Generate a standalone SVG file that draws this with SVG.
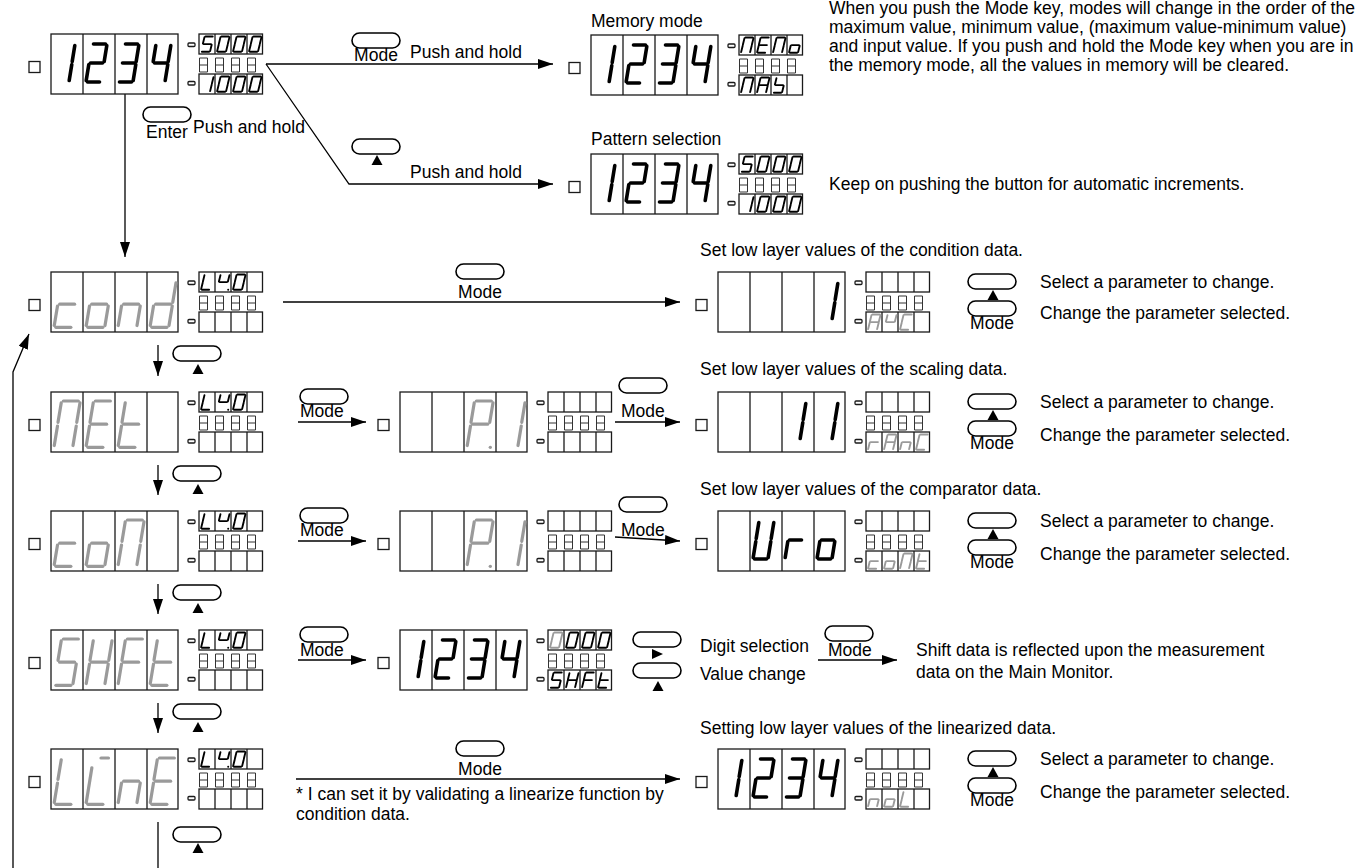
<svg xmlns="http://www.w3.org/2000/svg" width="1370" height="868" viewBox="0 0 1370 868">
<style>
text{font-family:"Liberation Sans",Arial,sans-serif;font-size:17.5px;fill:#000}
.fr{fill:none;stroke:#1a1a1a;stroke-width:1.3}
.led{fill:none;stroke:#333;stroke-width:1}
.btn{fill:#fff;stroke:#000;stroke-width:1.6}
.tri{fill:#000}
.cn{fill:none;stroke:#000;stroke-width:1.3}
.B{stroke:#000;stroke-width:3.6;stroke-linecap:round}
.G{stroke:#9a9a9a;stroke-width:3.2;stroke-linecap:round}
.s{stroke:#000;stroke-width:1.9;stroke-linecap:round}
.sg{stroke:#9a9a9a;stroke-width:1.9;stroke-linecap:round}
</style>
<defs>
<marker id="ah" markerUnits="userSpaceOnUse" markerWidth="16" markerHeight="11" refX="15" refY="5" orient="auto"><path d="M0,0 L15,5 L0,10 z" fill="#000"/></marker>
<line id="sa" x1="7.5" y1="0" x2="19.5" y2="0" vector-effect="non-scaling-stroke"/>
<line id="sb" x1="20.8" y1="1.5" x2="18.2" y2="17.5" vector-effect="non-scaling-stroke"/>
<line id="sc" x1="17.8" y1="20.5" x2="15.2" y2="36.5" vector-effect="non-scaling-stroke"/>
<line id="sd" x1="1.5" y1="38" x2="13.5" y2="38" vector-effect="non-scaling-stroke"/>
<line id="se" x1="2.8" y1="20.5" x2="0.2" y2="36.5" vector-effect="non-scaling-stroke"/>
<line id="sf" x1="5.8" y1="1.5" x2="3.2" y2="17.5" vector-effect="non-scaling-stroke"/>
<line id="sg" x1="4.5" y1="19" x2="16.5" y2="19" vector-effect="non-scaling-stroke"/>
<line id="sp" x1="18.6" y1="38" x2="18.7" y2="38" vector-effect="non-scaling-stroke"/>
<line id="sa2" x1="12" y1="0" x2="18" y2="0" vector-effect="non-scaling-stroke"/>
<line id="si" x1="4.7" y1="8" x2="0.2" y2="36.5" vector-effect="non-scaling-stroke"/>
<g id="k0"><use href="#sa"/><use href="#sb"/><use href="#sc"/><use href="#sd"/><use href="#se"/><use href="#sf"/></g>
<g id="k1"><use href="#sb"/><use href="#sc"/></g>
<g id="k2"><use href="#sa"/><use href="#sb"/><use href="#sg"/><use href="#se"/><use href="#sd"/></g>
<g id="k3"><use href="#sa"/><use href="#sb"/><use href="#sg"/><use href="#sc"/><use href="#sd"/></g>
<g id="k4"><use href="#sf"/><use href="#sg"/><use href="#sb"/><use href="#sc"/></g>
<g id="k5"><use href="#sa"/><use href="#sf"/><use href="#sg"/><use href="#sc"/><use href="#sd"/></g>
<g id="kc"><use href="#sg"/><use href="#se"/><use href="#sd"/></g>
<g id="ko"><use href="#sg"/><use href="#sc"/><use href="#sd"/><use href="#se"/></g>
<g id="kn"><use href="#se"/><use href="#sg"/><use href="#sc"/></g>
<g id="kd"><use href="#sb"/><use href="#sc"/><use href="#sd"/><use href="#se"/><use href="#sg"/></g>
<g id="kN"><use href="#sa"/><use href="#sb"/><use href="#sc"/><use href="#se"/><use href="#sf"/></g>
<g id="kE"><use href="#sa"/><use href="#sd"/><use href="#se"/><use href="#sf"/><use href="#sg"/></g>
<g id="kt"><use href="#sd"/><use href="#se"/><use href="#sf"/><use href="#sg"/></g>
<g id="kH"><use href="#sb"/><use href="#sc"/><use href="#se"/><use href="#sf"/><use href="#sg"/></g>
<g id="kF"><use href="#sa"/><use href="#se"/><use href="#sf"/><use href="#sg"/></g>
<g id="kL"><use href="#sd"/><use href="#se"/><use href="#sf"/></g>
<g id="kI"><use href="#sa2"/><use href="#si"/><use href="#sd"/></g>
<g id="kP"><use href="#sa"/><use href="#sb"/><use href="#se"/><use href="#sf"/><use href="#sg"/><use href="#sp"/></g>
<g id="kU"><use href="#sb"/><use href="#sc"/><use href="#sd"/><use href="#se"/><use href="#sf"/></g>
<g id="kr"><use href="#se"/><use href="#sg"/></g>
<g id="kA"><use href="#sa"/><use href="#sb"/><use href="#sc"/><use href="#se"/><use href="#sf"/><use href="#sg"/></g>
<g id="kv"><use href="#sf"/><use href="#sb"/><use href="#sg"/></g>
<g id="kC"><use href="#sa"/><use href="#sd"/><use href="#se"/><use href="#sf"/></g>
<g id="kX"><use href="#sf"/><use href="#sg"/><use href="#sc"/><use href="#sd"/></g>
<g id="frame">
<rect class="fr" x="0" y="0" width="127" height="60"/>
<path class="fr" d="M32,0V60M64,0V60M96,0V60"/>
<rect class="fr" x="-22" y="27.5" width="11" height="11"/>
<rect class="fr" x="137" y="9" width="7" height="3.5" rx="1"/>
<rect class="fr" x="137" y="47.5" width="7" height="3.5" rx="1"/>
<rect class="fr" x="148" y="0" width="63.5" height="20"/>
<path class="fr" d="M164,0V20M180,0V20M196,0V20"/>
<rect class="fr" x="148" y="40" width="63.5" height="20"/>
<path class="fr" d="M164,40V60M180,40V60M196,40V60"/>
<path class="led" d="M148.5,24h8v14h-8zM148.5,31h8M164.5,24h8v14h-8zM164.5,31h8M180.5,24h8v14h-8zM180.5,31h8M196.5,24h8v14h-8zM196.5,31h8"/>
</g>
<rect id="btn" class="btn" width="48" height="15" rx="7.5"/>
<polygon id="up" class="tri" points="-5.5,10 5.5,10 0,0"/>
<polygon id="rt" class="tri" points="0,0 0,10 11,5"/>
</defs>

<g id="connectors">
<path class="cn" d="M266,64H553" marker-end="url(#ah)"/>
<path class="cn" d="M266,64L349,184H553" marker-end="url(#ah)"/>
<path class="cn" d="M125,94V257" marker-end="url(#ah)"/>
<path class="cn" d="M283,302H680" marker-end="url(#ah)"/>
<path class="cn" d="M298,422H366" marker-end="url(#ah)"/>
<path class="cn" d="M615,422H680" marker-end="url(#ah)"/>
<path class="cn" d="M298,541H366" marker-end="url(#ah)"/>
<path class="cn" d="M615,537L680,541" marker-end="url(#ah)"/>
<path class="cn" d="M298,660H366" marker-end="url(#ah)"/>
<path class="cn" d="M818,660H897" marker-end="url(#ah)"/>
<path class="cn" d="M296,779H680" marker-end="url(#ah)"/>
<path class="cn" d="M158,345V376" marker-end="url(#ah)"/>
<path class="cn" d="M158,465V495" marker-end="url(#ah)"/>
<path class="cn" d="M158,584V614" marker-end="url(#ah)"/>
<path class="cn" d="M158,703V733" marker-end="url(#ah)"/>
<path class="cn" d="M158,822V868"/>
<path class="cn" d="M13,868V372L29,334" marker-end="url(#ah)"/>
</g>

<g id="keys">
<use href="#btn" x="352" y="33"/><text x="376" y="61" text-anchor="middle">Mode</text>
<text x="410" y="58">Push and hold</text>
<use href="#btn" x="352" y="139"/><use href="#up" x="377" y="155"/>
<text x="410" y="178">Push and hold</text>
<use href="#btn" x="143" y="107"/><text x="167" y="138" text-anchor="middle">Enter</text>
<text x="193" y="133">Push and hold</text>
<use href="#btn" x="173" y="346"/><use href="#up" x="198" y="364"/>
<use href="#btn" x="173" y="466"/><use href="#up" x="198" y="484"/>
<use href="#btn" x="173" y="585"/><use href="#up" x="198" y="603"/>
<use href="#btn" x="173" y="704"/><use href="#up" x="198" y="722"/>
<use href="#btn" x="173" y="827"/><use href="#up" x="198" y="843"/>
<use href="#btn" x="456" y="264"/><text x="480" y="298" text-anchor="middle">Mode</text>
<use href="#btn" x="300" y="389"/><text x="300" y="417">Mode</text>
<use href="#btn" x="619" y="378"/><text x="621" y="417">Mode</text>
<use href="#btn" x="300" y="508"/><text x="300" y="536">Mode</text>
<use href="#btn" x="619" y="497"/><text x="621" y="536">Mode</text>
<use href="#btn" x="300" y="627"/><text x="300" y="656">Mode</text>
<use href="#btn" x="633" y="632"/><use href="#rt" x="652" y="649"/>
<use href="#btn" x="633" y="663"/><use href="#up" x="658" y="681"/>
<text x="700" y="652">Digit selection</text>
<text x="700" y="680">Value change</text>
<use href="#btn" x="825" y="626"/><text x="828" y="656">Mode</text>
<use href="#btn" x="456" y="741"/><text x="480" y="775" text-anchor="middle">Mode</text>
<use href="#btn" x="968" y="274"/><use href="#up" x="993" y="290"/>
<use href="#btn" x="968" y="301"/><text x="992" y="329" text-anchor="middle">Mode</text>
<use href="#btn" x="968" y="394"/><use href="#up" x="993" y="410"/>
<use href="#btn" x="968" y="421"/><text x="992" y="449" text-anchor="middle">Mode</text>
<use href="#btn" x="968" y="513"/><use href="#up" x="993" y="529"/>
<use href="#btn" x="968" y="540"/><text x="992" y="568" text-anchor="middle">Mode</text>
<use href="#btn" x="968" y="751"/><use href="#up" x="993" y="767"/>
<use href="#btn" x="968" y="778"/><text x="992" y="806" text-anchor="middle">Mode</text>
</g>

<g id="notes">
<text x="591" y="27">Memory mode</text>
<text x="591" y="145">Pattern selection</text>
<text x="829" y="14">When you push the Mode key, modes will change in the order of the</text>
<text x="829" y="33">maximum value, minimum value, (maximum value-minimum value)</text>
<text x="829" y="52">and input value. If you push and hold the Mode key when you are in</text>
<text x="829" y="71">the memory mode, all the values in memory will be cleared.</text>
<text x="829" y="190">Keep on pushing the button for automatic increments.</text>
<text x="700" y="256">Set low layer values of the condition data.</text>
<text x="1040" y="288">Select a parameter to change.</text>
<text x="1040" y="319">Change the parameter selected.</text>
<text x="700" y="375">Set low layer values of the scaling data.</text>
<text x="1040" y="408">Select a parameter to change.</text>
<text x="1040" y="441">Change the parameter selected.</text>
<text x="700" y="495">Set low layer values of the comparator data.</text>
<text x="1040" y="527">Select a parameter to change.</text>
<text x="1040" y="560">Change the parameter selected.</text>
<text x="916" y="656">Shift data is reflected upon the measurement</text>
<text x="916" y="678">data on the Main Monitor.</text>
<text x="700" y="734">Setting low layer values of the linearized data.</text>
<text x="1040" y="765">Select a parameter to change.</text>
<text x="1040" y="798">Change the parameter selected.</text>
<text x="296" y="800">* I can set it by validating a linearize function by</text>
<text x="296" y="820">condition data.</text>
</g>

<g id="disp-main">
<use href="#frame" x="51" y="34"/>
<use href="#k1" class="B" transform="translate(54,44)"/><use href="#k2" class="B" transform="translate(86,44)"/><use href="#k3" class="B" transform="translate(118,44)"/><use href="#k4" class="B" transform="translate(150,44)"/>
<use href="#k5" class="s" transform="translate(201,36.5) scale(0.6,0.4)"/><use href="#k0" class="s" transform="translate(217,36.5) scale(0.6,0.4)"/><use href="#k0" class="s" transform="translate(233,36.5) scale(0.6,0.4)"/><use href="#k0" class="s" transform="translate(249,36.5) scale(0.6,0.4)"/>
<use href="#k1" class="s" transform="translate(201,76.5) scale(0.6,0.4)"/><use href="#k0" class="s" transform="translate(217,76.5) scale(0.6,0.4)"/><use href="#k0" class="s" transform="translate(233,76.5) scale(0.6,0.4)"/><use href="#k0" class="s" transform="translate(249,76.5) scale(0.6,0.4)"/>
</g>

<g id="disp-memory">
<use href="#frame" x="591" y="35"/>
<use href="#k1" class="B" transform="translate(594,45)"/><use href="#k2" class="B" transform="translate(626,45)"/><use href="#k3" class="B" transform="translate(658,45)"/><use href="#k4" class="B" transform="translate(690,45)"/>
<use href="#kN" class="s" transform="translate(741,37.5) scale(0.6,0.4)"/><use href="#kE" class="s" transform="translate(757,37.5) scale(0.6,0.4)"/><use href="#kN" class="s" transform="translate(773,37.5) scale(0.6,0.4)"/><use href="#ko" class="s" transform="translate(789,37.5) scale(0.6,0.4)"/>
<use href="#kN" class="s" transform="translate(741,77.5) scale(0.6,0.4)"/><use href="#kA" class="s" transform="translate(757,77.5) scale(0.6,0.4)"/><use href="#kX" class="s" transform="translate(773,77.5) scale(0.6,0.4)"/>
</g>

<g id="disp-pattern">
<use href="#frame" x="591" y="154"/>
<use href="#k1" class="B" transform="translate(594,164)"/><use href="#k2" class="B" transform="translate(626,164)"/><use href="#k3" class="B" transform="translate(658,164)"/><use href="#k4" class="B" transform="translate(690,164)"/>
<use href="#k5" class="s" transform="translate(741,156.5) scale(0.6,0.4)"/><use href="#k0" class="s" transform="translate(757,156.5) scale(0.6,0.4)"/><use href="#k0" class="s" transform="translate(773,156.5) scale(0.6,0.4)"/><use href="#k0" class="s" transform="translate(789,156.5) scale(0.6,0.4)"/>
<use href="#k1" class="s" transform="translate(741,196.5) scale(0.6,0.4)"/><use href="#k0" class="s" transform="translate(757,196.5) scale(0.6,0.4)"/><use href="#k0" class="s" transform="translate(773,196.5) scale(0.6,0.4)"/><use href="#k0" class="s" transform="translate(789,196.5) scale(0.6,0.4)"/>
</g>

<g id="disp-cond">
<use href="#frame" x="51" y="272"/>
<use href="#kc" class="G" transform="translate(54,281) scale(1.25,1.22)"/><use href="#ko" class="G" transform="translate(86,281) scale(1.25,1.22)"/><use href="#kn" class="G" transform="translate(118,281) scale(1.25,1.22)"/><use href="#kd" class="G" transform="translate(150,281) scale(1.25,1.22)"/>
<use href="#kL" class="s" transform="translate(201,274.5) scale(0.6,0.4)"/><use href="#kv" class="s" transform="translate(217,274.5) scale(0.6,0.4)"/><use href="#sp" class="s" transform="translate(217,274.5) scale(0.6,0.4)"/><use href="#k0" class="s" transform="translate(233,274.5) scale(0.6,0.4)"/>
</g>

<g id="disp-net">
<use href="#frame" x="51" y="392"/>
<use href="#kN" class="G" transform="translate(54,401) scale(1.25,1.22)"/><use href="#kE" class="G" transform="translate(86,401) scale(1.25,1.22)"/><use href="#kt" class="G" transform="translate(118,401) scale(1.25,1.22)"/>
<use href="#kL" class="s" transform="translate(201,394.5) scale(0.6,0.4)"/><use href="#kv" class="s" transform="translate(217,394.5) scale(0.6,0.4)"/><use href="#sp" class="s" transform="translate(217,394.5) scale(0.6,0.4)"/><use href="#k0" class="s" transform="translate(233,394.5) scale(0.6,0.4)"/>
</g>

<g id="disp-com">
<use href="#frame" x="51" y="511"/>
<use href="#kc" class="G" transform="translate(54,520) scale(1.25,1.22)"/><use href="#ko" class="G" transform="translate(86,520) scale(1.25,1.22)"/><use href="#kN" class="G" transform="translate(118,520) scale(1.25,1.22)"/>
<use href="#kL" class="s" transform="translate(201,513.5) scale(0.6,0.4)"/><use href="#kv" class="s" transform="translate(217,513.5) scale(0.6,0.4)"/><use href="#sp" class="s" transform="translate(217,513.5) scale(0.6,0.4)"/><use href="#k0" class="s" transform="translate(233,513.5) scale(0.6,0.4)"/>
</g>

<g id="disp-shft">
<use href="#frame" x="51" y="630"/>
<use href="#k5" class="G" transform="translate(54,639) scale(1.25,1.22)"/><use href="#kH" class="G" transform="translate(86,639) scale(1.25,1.22)"/><use href="#kF" class="G" transform="translate(118,639) scale(1.25,1.22)"/><use href="#kt" class="G" transform="translate(150,639) scale(1.25,1.22)"/>
<use href="#kL" class="s" transform="translate(201,632.5) scale(0.6,0.4)"/><use href="#kv" class="s" transform="translate(217,632.5) scale(0.6,0.4)"/><use href="#sp" class="s" transform="translate(217,632.5) scale(0.6,0.4)"/><use href="#k0" class="s" transform="translate(233,632.5) scale(0.6,0.4)"/>
</g>

<g id="disp-line">
<use href="#frame" x="51" y="749"/>
<use href="#kL" class="G" transform="translate(54,758) scale(1.25,1.22)"/><use href="#kI" class="G" transform="translate(86,758) scale(1.25,1.22)"/><use href="#kn" class="G" transform="translate(118,758) scale(1.25,1.22)"/><use href="#kE" class="G" transform="translate(150,758) scale(1.25,1.22)"/>
<use href="#kL" class="s" transform="translate(201,751.5) scale(0.6,0.4)"/><use href="#kv" class="s" transform="translate(217,751.5) scale(0.6,0.4)"/><use href="#sp" class="s" transform="translate(217,751.5) scale(0.6,0.4)"/><use href="#k0" class="s" transform="translate(233,751.5) scale(0.6,0.4)"/>
</g>

<g id="disp-net-p1">
<use href="#frame" x="400" y="392"/>
<use href="#kP" class="G" transform="translate(467,401) scale(1.25,1.22)"/><use href="#k1" class="G" transform="translate(499,401) scale(1.25,1.22)"/>
</g>

<g id="disp-com-p1">
<use href="#frame" x="400" y="511"/>
<use href="#kP" class="G" transform="translate(467,520) scale(1.25,1.22)"/><use href="#k1" class="G" transform="translate(499,520) scale(1.25,1.22)"/>
</g>

<g id="disp-shft-value">
<use href="#frame" x="400" y="630"/>
<use href="#k1" class="B" transform="translate(403,640)"/><use href="#k2" class="B" transform="translate(435,640)"/><use href="#k3" class="B" transform="translate(467,640)"/><use href="#k4" class="B" transform="translate(499,640)"/>
<use href="#k0" class="sg" transform="translate(550,632.5) scale(0.6,0.4)"/><use href="#k0" class="s" transform="translate(566,632.5) scale(0.6,0.4)"/><use href="#k0" class="s" transform="translate(582,632.5) scale(0.6,0.4)"/><use href="#k0" class="s" transform="translate(598,632.5) scale(0.6,0.4)"/>
<use href="#k5" class="s" transform="translate(550,672.5) scale(0.6,0.4)"/><use href="#kH" class="s" transform="translate(566,672.5) scale(0.6,0.4)"/><use href="#kF" class="s" transform="translate(582,672.5) scale(0.6,0.4)"/><use href="#kt" class="s" transform="translate(598,672.5) scale(0.6,0.4)"/>
</g>

<g id="disp-cond-param">
<use href="#frame" x="718" y="272"/>
<use href="#k1" class="B" transform="translate(817,282)"/>
<use href="#kA" class="sg" transform="translate(868,314.5) scale(0.6,0.4)"/><use href="#kv" class="sg" transform="translate(884,314.5) scale(0.6,0.4)"/><use href="#kC" class="sg" transform="translate(900,314.5) scale(0.6,0.4)"/>
</g>

<g id="disp-net-param">
<use href="#frame" x="718" y="392"/>
<use href="#k1" class="B" transform="translate(785,402)"/><use href="#k1" class="B" transform="translate(817,402)"/>
<use href="#kr" class="sg" transform="translate(868,434.5) scale(0.6,0.4)"/><use href="#kA" class="sg" transform="translate(884,434.5) scale(0.6,0.4)"/><use href="#kn" class="sg" transform="translate(900,434.5) scale(0.6,0.4)"/><use href="#kC" class="sg" transform="translate(916,434.5) scale(0.6,0.4)"/>
</g>

<g id="disp-com-param">
<use href="#frame" x="718" y="511"/>
<use href="#kU" class="B" transform="translate(753,521)"/><use href="#kr" class="B" transform="translate(785,521)"/><use href="#ko" class="B" transform="translate(817,521)"/>
<use href="#kc" class="sg" transform="translate(868,553.5) scale(0.6,0.4)"/><use href="#ko" class="sg" transform="translate(884,553.5) scale(0.6,0.4)"/><use href="#kN" class="sg" transform="translate(900,553.5) scale(0.6,0.4)"/><use href="#kt" class="sg" transform="translate(916,553.5) scale(0.6,0.4)"/>
</g>

<g id="disp-line-param">
<use href="#frame" x="718" y="749"/>
<use href="#k1" class="B" transform="translate(721,759)"/><use href="#k2" class="B" transform="translate(753,759)"/><use href="#k3" class="B" transform="translate(785,759)"/><use href="#k4" class="B" transform="translate(817,759)"/>
<use href="#kn" class="sg" transform="translate(868,791.5) scale(0.6,0.4)"/><use href="#ko" class="sg" transform="translate(884,791.5) scale(0.6,0.4)"/><use href="#kL" class="sg" transform="translate(900,791.5) scale(0.6,0.4)"/>
</g>
</svg>
